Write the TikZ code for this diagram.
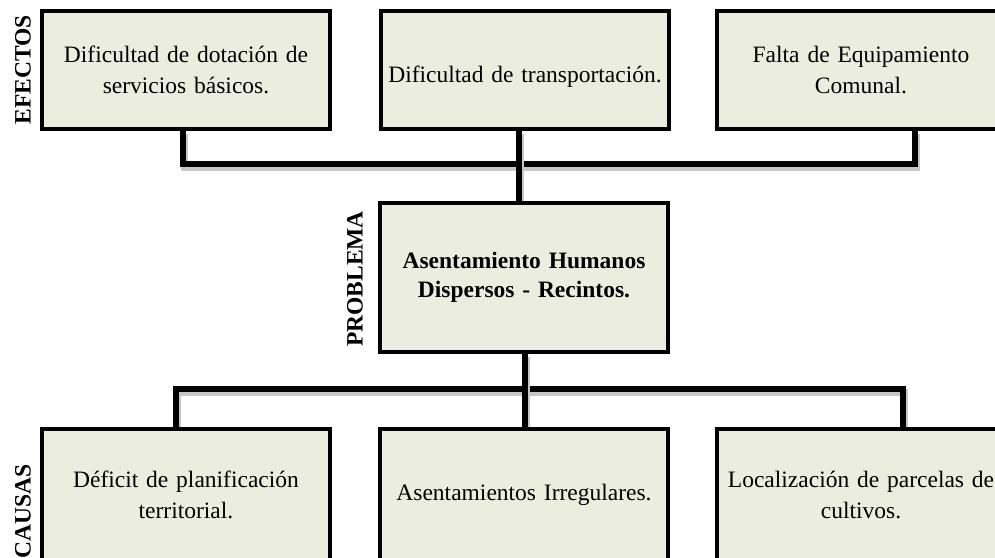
\documentclass[tikz,border=0pt]{standalone}
\usepackage{fontspec}
\setmainfont{Liberation Serif}
\usepackage{xcolor}
\definecolor{cajafondo}{RGB}{235,238,223}
\pgfdeclarelayer{fondo}
\pgfsetlayers{fondo,main}

\begin{document}
\begin{tikzpicture}[x=1pt, y=1pt, font=\fontsize{23.5}{31}\selectfont,
  caja/.style={draw=black, line width=3.5pt, fill=cajafondo, minimum width=288pt,
    inner sep=0pt, align=center, text width=282pt},
  enlace/.style={line width=6.5pt,
    preaction={draw=black!22, line width=6.5pt, transform canvas={shift={(1.5pt,-3.5pt)}}}},
  rotulo/.style={rotate=90, font=\fontsize{23.5}{28}\selectfont\bfseries}]
  \useasboundingbox (0,0) rectangle (995,557);
  \node[caja, minimum height=118pt] (efe1) at (186,487) {Dificultad de dotación de\\ servicios básicos.};
  \node[caja, minimum height=118pt] (efe2) at (525,487) {\mbox{}\\ Dificultad de transportación.};
  \node[caja, minimum height=118pt] (efe3) at (861,487) {Falta de Equipamiento\\ Comunal.};
  \node[caja, minimum height=149pt, font=\fontsize{23.5}{29}\selectfont\bfseries] (prob) at (524,279.5)
        {Asentamiento Humanos\\ Dispersos - Recintos.};
  \node[caja, minimum height=131pt] (cau1) at (186,62.5) {Déficit de planificación\\ territorial.};
  \node[caja, minimum height=131pt] (cau2) at (524,62.5) {Asentamientos Irregulares.};
  \node[caja, minimum height=131pt] (cau3) at (861,62.5) {Localización de parcelas de\\ cultivos.};
  \node[rotulo] (lblefe) at (23,487) {EFECTOS};
  \node[rotulo] (lblprob) at (355,278) {PROBLEMA};
  \node[rotulo] (lblcau) at (23,46) {CAUSAS};
  \coordinate (ea) at (183,393);
  \coordinate (eb) at (915,393);
  \coordinate (ec) at (519,393);
  \coordinate (ca) at (176,168);
  \coordinate (cb) at (903,168);
  \coordinate (cc) at (525,168);
  \begin{pgfonlayer}{fondo}
    \draw[enlace] (efe1.south -| ea) -- (ea) -- (eb) -- (efe3.south -| eb);
    \draw[enlace] (efe2.south -| ec) -- (prob.north -| ec);
    \draw[enlace] (cau1.north -| ca) -- (ca) -- (cb) -- (cau3.north -| cb);
    \draw[enlace] (prob.south -| cc) -- (cau2.north -| cc);
  \end{pgfonlayer}
\end{tikzpicture}
\end{document}
